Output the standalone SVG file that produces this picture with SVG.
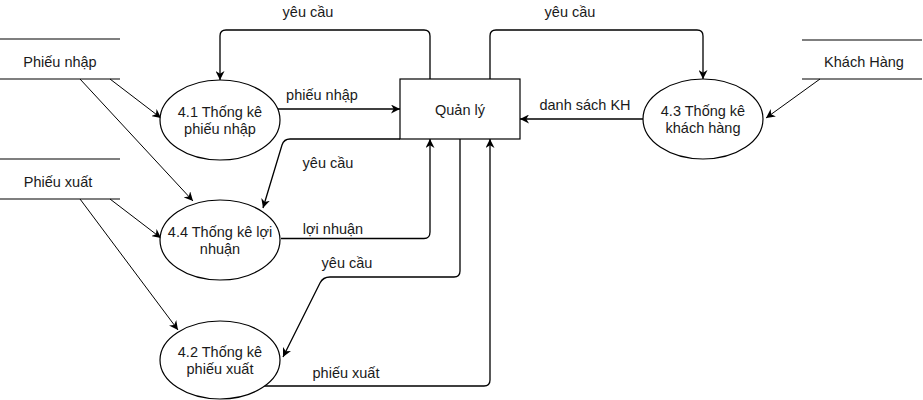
<svg xmlns="http://www.w3.org/2000/svg" width="923" height="400" viewBox="0 0 923 400">
<style>
text{font-family:"Liberation Sans",Arial,sans-serif;font-size:14.5px;fill:#1a1a1a;text-anchor:middle}
.sh{fill:#fff;stroke:#000;stroke-width:1.2}
.st{stroke:#000;stroke-width:1.2;fill:none}
.c{stroke:#000;stroke-width:1.3;fill:none;marker-end:url(#a)}
.d{stroke:#000;stroke-width:1;fill:none;marker-end:url(#a)}
</style>
<defs>
<marker id="a" viewBox="0 0 10 10" refX="10" refY="5" markerWidth="9" markerHeight="9" markerUnits="userSpaceOnUse" orient="auto">
<path d="M0,0 L10,5 L0,10 L3,5 z" fill="#000"/>
</marker>
</defs>
<rect width="923" height="400" fill="#fff"/>
<g id="connectors">
<path class="c" d="M430,79 V36 Q430,30 424,30 H226 Q220,30 220,36 V80"/>
<path class="c" d="M490,79 V36 Q490,30 496,30 H697 Q703,30 703,36 V79"/>
<path class="c" d="M278,109 H400"/>
<path class="c" d="M643,119 H520"/>
<path class="d" d="M820,79 L766,118"/>
<path class="d" d="M110,79 L161,118"/>
<path class="d" d="M80,79 L193,201"/>
<path class="d" d="M110,199 L161,238"/>
<path class="d" d="M80,199 L178,330"/>
<path class="c" d="M400,139 H290 Q284,139 282,145 L263,208"/>
<path class="c" d="M281,238.5 H424 Q430,238.5 430,232 V139"/>
<path class="c" d="M460,139 V271 Q460,277 454,277 H330 Q323,277 320,283 L283,357"/>
<path class="c" d="M264,386 H484 Q490,386 490,380 V139"/>
<text x="308" y="17">yêu cầu</text>
<text x="570" y="17">yêu cầu</text>
<text x="322" y="100">phiếu nhập</text>
<text x="585" y="110">danh sách KH</text>
<text x="328" y="168">yêu cầu</text>
<text x="333" y="234">lợi nhuận</text>
<text x="347" y="268">yêu cầu</text>
<text x="346" y="378">phiếu xuất</text>
</g>
<g id="quanly">
<rect class="sh" x="400" y="79" width="120" height="60"/>
<text x="460" y="114.5">Quản lý</text>
</g>
<g id="p41">
<ellipse class="sh" cx="220" cy="120" rx="60" ry="40"/>
<text x="220" y="116.5">4.1 Thống kê</text>
<text x="220" y="133.5">phiếu nhập</text>
</g>
<g id="p44">
<ellipse class="sh" cx="220" cy="240" rx="60" ry="40"/>
<text x="220" y="236.5">4.4 Thống kê lợi</text>
<text x="220" y="253.5">nhuận</text>
</g>
<g id="p42">
<ellipse class="sh" cx="220" cy="360" rx="60" ry="39"/>
<text x="220" y="356.5">4.2 Thống kê</text>
<text x="220" y="373.5">phiếu xuất</text>
</g>
<g id="p43">
<ellipse class="sh" cx="703" cy="119" rx="60" ry="40"/>
<text x="703" y="115.5">4.3 Thống kê</text>
<text x="703" y="132.5">khách hàng</text>
</g>
<g id="ds-phieunhap">
<path class="st" d="M0,39 H120 M0,79 H120"/>
<text x="60" y="67">Phiếu nhập</text>
</g>
<g id="ds-phieuxuat">
<path class="st" d="M0,159 H120 M0,199 H120"/>
<text x="58" y="187">Phiếu xuất</text>
</g>
<g id="ds-khachhang">
<path class="st" d="M802,40 H922 M802,79 H922"/>
<text x="864" y="67">Khách Hàng</text>
</g>
</svg>
